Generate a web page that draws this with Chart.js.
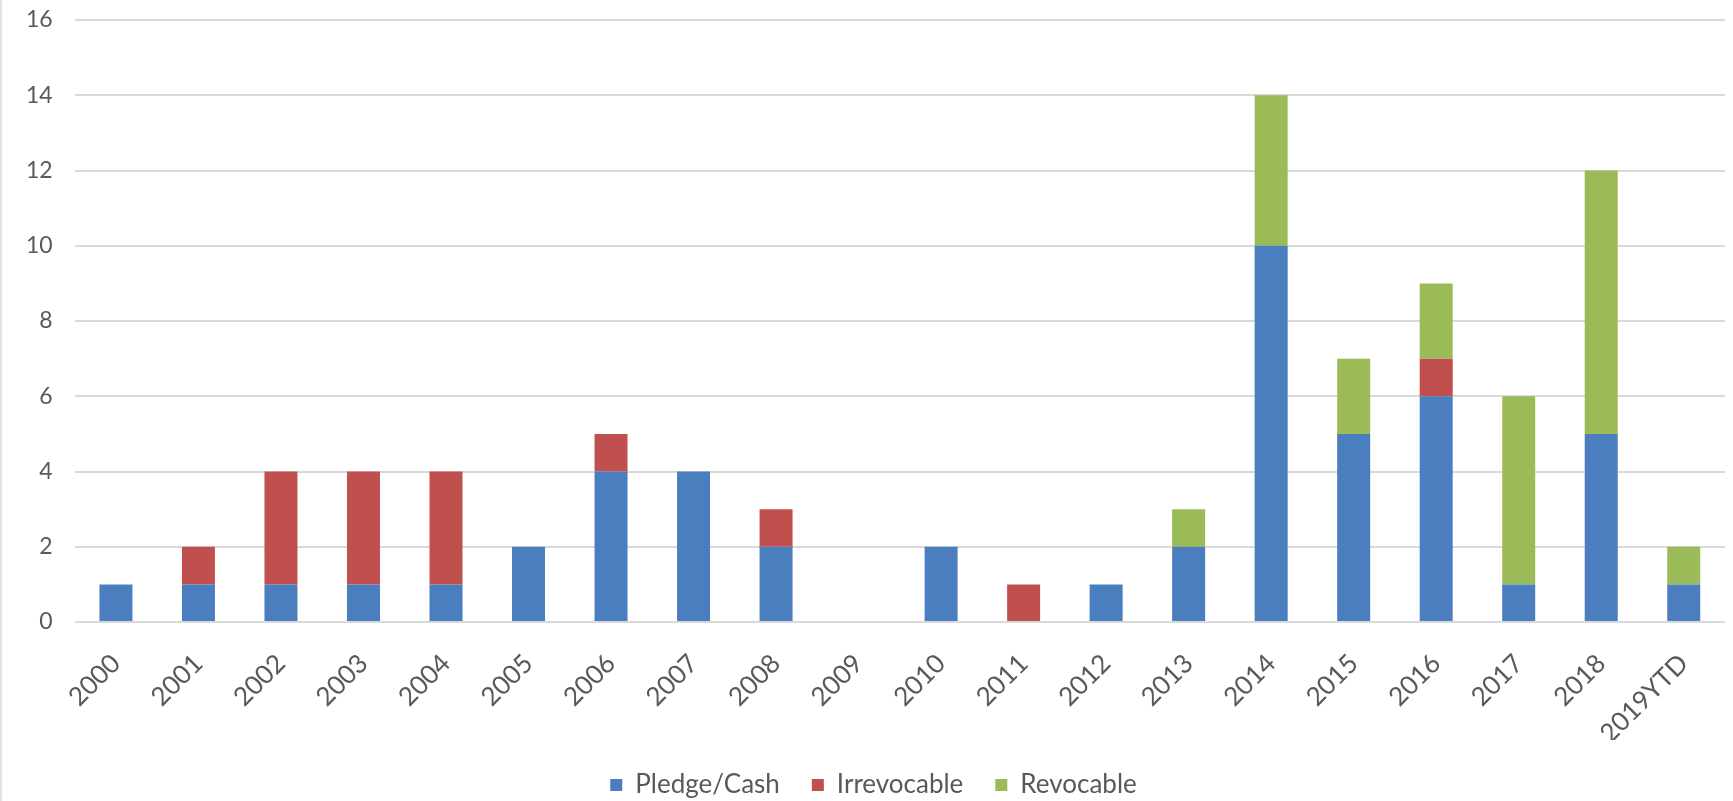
<!DOCTYPE html>
<html lang="en">
<head>
  <meta charset="UTF-8" />
  <title>Gifts by Year</title>
  <script src="https://cdn.jsdelivr.net/npm/chart.js"></script>
  <style>
    body {
      margin: 0;
      background: #ffffff;
    }

    .chart-box {
      width: 1733px;
      height: 801px;
      box-sizing: border-box;
      border-left: 2px solid #e3e3e3;
      background: #ffffff;
    }
  </style>
</head>
<body>
  <div class="chart-box"><canvas id="giftsChart"></canvas></div>

  <script>
    const years = ['2000', '2001', '2002', '2003', '2004', '2005', '2006', '2007', '2008', '2009',
                   '2010', '2011', '2012', '2013', '2014', '2015', '2016', '2017', '2018', '2019YTD'];
    const pledgeCash  = [1, 1, 1, 1, 1, 2, 4, 4, 2, 0, 2, 0, 1, 2, 10, 5, 6, 1, 5, 1];
    const irrevocable = [0, 1, 3, 3, 3, 0, 1, 0, 1, 0, 0, 1, 0, 0, 0, 0, 1, 0, 0, 0];
    const revocable   = [0, 0, 0, 0, 0, 0, 0, 0, 0, 0, 0, 0, 0, 1, 4, 2, 2, 5, 7, 1];
    const yTicks = [0, 2, 4, 6, 8, 10, 12, 14, 16];

    const textColor = '#595959';
    const family = 'Lato, "Liberation Sans", sans-serif';

    new Chart(document.getElementById('giftsChart'), {
      type: 'bar',
      data: {
        labels: years,
        datasets: [
          { label: 'Pledge/Cash', data: pledgeCash, backgroundColor: '#4a7ebf' },
          { label: 'Irrevocable', data: irrevocable, backgroundColor: '#c0504d' },
          { label: 'Revocable', data: revocable, backgroundColor: '#9bbb59' }
        ]
      },
      options: {
        responsive: true,
        maintainAspectRatio: false,
        animation: false,
        datasets: { bar: { categoryPercentage: 1, barPercentage: 0.4 } },
        // negative bottom padding pushes the legend a bit lower, as in the original
        layout: { padding: { left: 20, right: 8, top: 20, bottom: -7 } },
        plugins: {
          tooltip: { enabled: false },
          legend: {
            position: 'bottom',
            labels: {
              color: textColor,
              font: { family: family, size: 26 },
              boxWidth: 12,
              boxHeight: 12,
              padding: 32
            }
          }
        },
        scales: {
          x: {
            stacked: true,
            grid: { display: false },
            border: { display: false },
            // rotated labels over-reserve space, pin the axis height
            afterFit: axis => { axis.height = 118; },
            ticks: {
              color: textColor,
              font: { family: family, size: 26 },
              minRotation: 45,
              maxRotation: 45,
              padding: 18
            }
          },
          y: {
            stacked: true,
            min: 0,
            max: 16,
            afterBuildTicks: axis => { axis.ticks = yTicks.map(v => ({ value: v })); },
            grid: { color: '#d9d9d9', lineWidth: 2, drawTicks: true, tickLength: 18, tickColor: 'rgba(0,0,0,0)' },
            border: { display: false },
            ticks: { color: textColor, font: { family: family, size: 23 }, padding: 4 }
          }
        }
      }
    });
  </script>
</body>
</html>
